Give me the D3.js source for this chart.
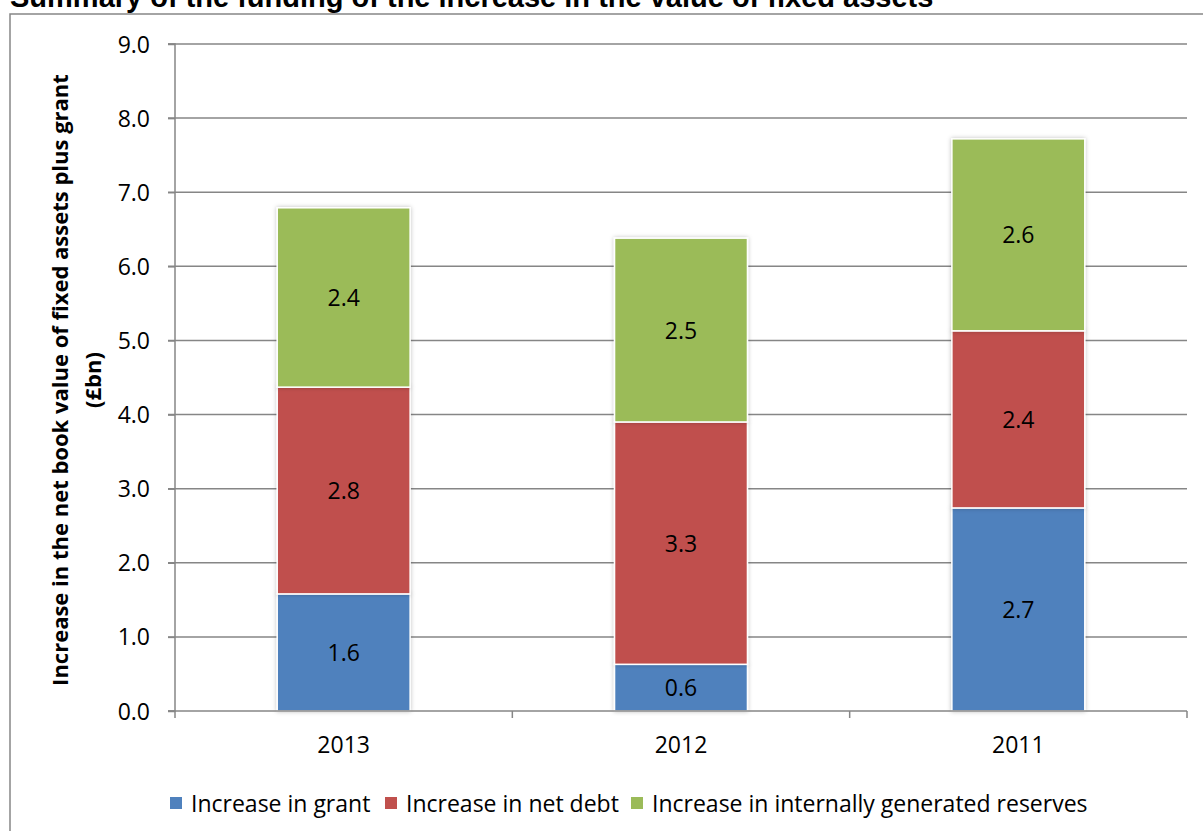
<!DOCTYPE html>
<html><head><meta charset="utf-8">
<script src="https://cdn.jsdelivr.net/npm/d3@7"></script>
<style>body{margin:0;background:#fff;} svg{display:block;}</style>
</head><body>
<svg id="c" width="1203" height="831"></svg>
<script>
const categories = ["2013", "2012", "2011"];
const seriesNames = ["Increase in grant", "Increase in net debt", "Increase in internally generated reserves"];
const grant = [1.58, 0.63, 2.74];
const netDebt = [2.79, 3.27, 2.39];
const reserves = [2.42, 2.48, 2.59];
const yTicks = [0, 1, 2, 3, 4, 5, 6, 7, 8, 9];
const colors = ["#4F81BD", "#C0504D", "#9BBB59"];

const svg = d3.select("#c");
const font = "'Open Sans', sans-serif";

// outer frame
svg.append("rect").attr("x", 10).attr("y", 14).attr("width", 1210).attr("height", 840)
  .attr("fill", "none").attr("stroke", "#868686").attr("stroke-width", 1.5);

// title
svg.append("text").attr("x", 10).attr("y", 7)
  .attr("font-family", "'Liberation Sans', Arial, sans-serif").attr("font-weight", "bold")
  .attr("font-size", 29).attr("fill", "#000")
  .text("Summary of the funding of the increase in the value of fixed assets");

const x0 = 175, x1 = 1187, yTop = 44, yBot = 711;
const x = d3.scaleBand().domain(categories).range([x0, x1]).paddingInner(0.606).paddingOuter(0.303);
const xb = d3.scaleBand().domain(categories).range([x0, x1]);
const y = d3.scaleLinear().domain([0, 9]).range([yBot, yTop]);

const defs = svg.append("defs");
const f = defs.append("filter").attr("id", "sh").attr("x", "-10%").attr("y", "-10%").attr("width", "120%").attr("height", "120%");
f.append("feDropShadow").attr("dx", 0).attr("dy", 0).attr("stdDeviation", 2).attr("flood-color", "#000").attr("flood-opacity", 0.25);

// gridlines
svg.append("g").selectAll("line").data(yTicks.filter(d => d > 0)).join("line")
  .attr("x1", x0 - 7).attr("x2", x1).attr("y1", d => y(d)).attr("y2", d => y(d))
  .attr("stroke", "#868686").attr("stroke-width", 1.5);

// y axis
const yAxis = svg.append("g").attr("transform", `translate(${x0},0)`)
  .call(d3.axisLeft(y).tickValues(yTicks).tickFormat(d3.format(".1f")).tickSize(7).tickPadding(18));
yAxis.select(".domain").attr("stroke", "#868686").attr("stroke-width", 1.5).attr("d", `M-7,${yBot}H0V${yTop}H-7`);
yAxis.selectAll(".tick line").attr("stroke", "#868686").attr("stroke-width", 1.5);
yAxis.selectAll(".tick text").attr("font-family", font).attr("font-size", 23).attr("fill", "#000").attr("dy", "0.35em");

// stacked bars
const rows = categories.map((c, i) => ({cat: c, grant: grant[i], debt: netDebt[i], res: reserves[i]}));
const stack = d3.stack().keys(["grant", "debt", "res"])(rows);
const gBars = svg.append("g");
stack.forEach((layer, li) => {
  const g = gBars.append("g");
  g.selectAll("rect").data(layer).join("rect")
    .attr("x", d => x(d.data.cat)).attr("width", x.bandwidth())
    .attr("y", d => y(d[1])).attr("height", d => y(d[0]) - y(d[1]))
    .attr("fill", colors[li]).attr("stroke", "#fff").attr("stroke-width", 1.5)
    .attr("filter", "url(#sh)");
});
stack.forEach((layer, li) => {
  gBars.append("g").selectAll("text").data(layer).join("text")
    .attr("x", d => x(d.data.cat) + x.bandwidth() / 2)
    .attr("y", d => (y(d[0]) + y(d[1])) / 2 + 8.5)
    .attr("text-anchor", "middle").attr("font-family", font).attr("font-size", 23).attr("fill", "#000")
    .text(d => d3.format(".1f")(d[1] - d[0]));
});

// x axis
const xAxis = svg.append("g").attr("transform", `translate(0,${yBot})`)
  .call(d3.axisBottom(xb).tickSize(0));
xAxis.select(".domain").remove();
xAxis.selectAll(".tick text").attr("font-family", font).attr("font-size", 23).attr("fill", "#000")
  .attr("y", 42).attr("dy", 0);
svg.append("line").attr("x1", x0 - 7).attr("x2", x1).attr("y1", yBot).attr("y2", yBot)
  .attr("stroke", "#868686").attr("stroke-width", 1.5);
svg.append("g").selectAll("line").data([x0, ...categories.map(c => xb(c) + xb.step())]).join("line")
  .attr("x1", d => d).attr("x2", d => d).attr("y1", yBot).attr("y2", yBot + 7)
  .attr("stroke", "#868686").attr("stroke-width", 1.5);

// y axis title
const yt = svg.append("text").attr("transform", `translate(68,380) rotate(-90)`)
  .attr("text-anchor", "middle").attr("font-family", font).attr("font-weight", "bold")
  .attr("font-size", 22).attr("fill", "#000");
yt.append("tspan").attr("x", 0).attr("dy", 0).text("Increase in the net book value of fixed assets plus grant");
yt.append("tspan").attr("x", 0).attr("dy", 33).text("(£bn)");

// legend
const legX = [170, 385, 631];
const leg = svg.append("g");
seriesNames.forEach((n, i) => {
  leg.append("rect").attr("x", legX[i]).attr("y", 797).attr("width", 12).attr("height", 12).attr("fill", colors[i]);
  leg.append("text").attr("x", legX[i] + 21).attr("y", 812).attr("font-family", font).attr("font-size", 23)
    .attr("fill", "#000").text(n);
});
</script>
</body></html>
